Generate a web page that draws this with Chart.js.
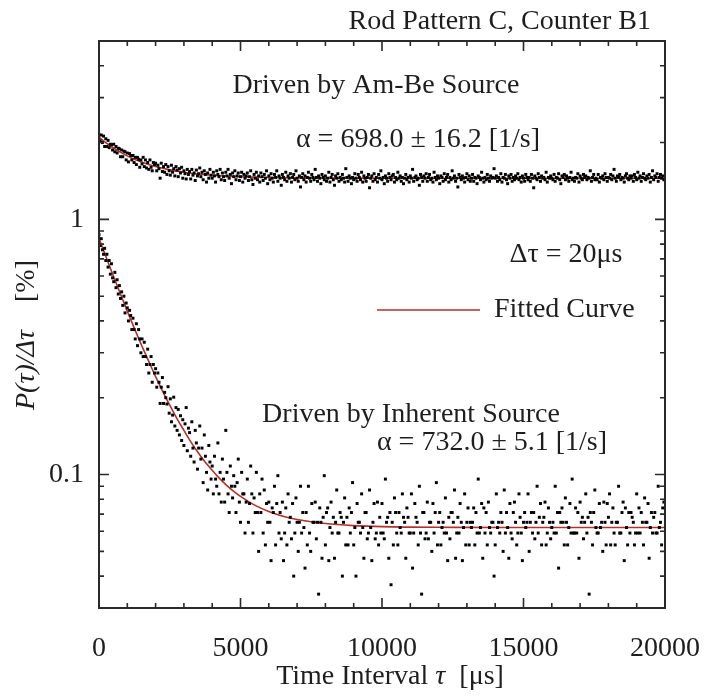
<!DOCTYPE html>
<html>
<head>
<meta charset="utf-8">
<title>Rod Pattern C, Counter B1</title>
<script src="https://cdn.jsdelivr.net/npm/chart.js@4.4.1/dist/chart.umd.min.js"></script>
<style>
  html, body { margin: 0; padding: 0; background: #fff; }
  #wrap { width: 705px; height: 698px; }
</style>
</head>
<body>
<div id="wrap"><canvas id="decayChart" width="705" height="698"></canvas></div>
<script>
// bin spacing of the plotted points (µs)
const TAU_STEP = 40;

// P(tau)/dtau [%] driven by the Am-Be source, one value per bin
const amBeValues = [
    2.15, 2.03, 2.14, 2.00, 2.12, 1.93, 2.07, 1.93, 2.04, 1.91,
    1.97, 1.96, 1.87, 1.97, 1.84, 1.93, 1.82, 1.90, 1.89, 1.76,
    1.87, 1.76, 1.85, 1.84, 1.71, 1.82, 1.68, 1.81, 1.78, 1.71,
    1.78, 1.67, 1.75, 1.64, 1.75, 1.72, 1.60, 1.71, 1.65, 1.75,
    1.61, 1.71, 1.59, 1.67, 1.57, 1.71, 1.60, 1.55, 1.67, 1.64,
    1.66, 1.55, 1.63, 1.58, 1.45, 1.66, 1.54, 1.61, 1.53, 1.64,
    1.50, 1.61, 1.55, 1.49, 1.63, 1.53, 1.58, 1.48, 1.61, 1.56,
    1.47, 1.58, 1.52, 1.60, 1.45, 1.55, 1.51, 1.44, 1.57, 1.50,
    1.54, 1.44, 1.57, 1.49, 1.52, 1.42, 1.56, 1.48, 1.51, 1.59,
    1.47, 1.53, 1.43, 1.55, 1.50, 1.40, 1.52, 1.45, 1.57, 1.49,
    1.45, 1.53, 1.48, 1.40, 1.55, 1.50, 1.47, 1.57, 1.43, 1.52,
    1.47, 1.42, 1.53, 1.48, 1.57, 1.45, 1.50, 1.38, 1.52, 1.47,
    1.55, 1.43, 1.48, 1.52, 1.42, 1.47, 1.53, 1.40, 1.50, 1.45,
    1.48, 1.52, 1.42, 1.47, 1.55, 1.43, 1.37, 1.50, 1.45, 1.53,
    1.43, 1.48, 1.40, 1.52, 1.47, 1.42, 1.50, 1.45, 1.55, 1.38,
    1.48, 1.43, 1.51, 1.45, 1.40, 1.50, 1.46, 1.55, 1.41, 1.48,
    1.45, 1.36, 1.50, 1.46, 1.43, 1.53, 1.41, 1.48, 1.45, 1.51,
    1.40, 1.46, 1.50, 1.43, 1.55, 1.45, 1.41, 1.48, 1.34, 1.46,
    1.51, 1.43, 1.48, 1.40, 1.46, 1.53, 1.45, 1.41, 1.50, 1.46,
    1.43, 1.57, 1.46, 1.41, 1.48, 1.45, 1.38, 1.50, 1.46, 1.43,
    1.48, 1.41, 1.45, 1.53, 1.40, 1.46, 1.50, 1.43, 1.36, 1.48,
    1.45, 1.51, 1.41, 1.46, 1.43, 1.50, 1.45, 1.40, 1.58, 1.46,
    1.41, 1.48, 1.45, 1.38, 1.46, 1.43, 1.51, 1.45, 1.41, 1.50,
    1.46, 1.43, 1.53, 1.40, 1.48, 1.45, 1.41, 1.46, 1.50, 1.33,
    1.45, 1.48, 1.41, 1.51, 1.43, 1.46, 1.40, 1.50, 1.45, 1.55,
    1.43, 1.46, 1.38, 1.48, 1.45, 1.41, 1.51, 1.46, 1.43, 1.48,
    1.50, 1.40, 1.46, 1.43, 1.53, 1.45, 1.48, 1.41, 1.46, 1.38,
    1.45, 1.50, 1.43, 1.46, 1.40, 1.48, 1.45, 1.57, 1.41, 1.46,
    1.48, 1.43, 1.45, 1.36, 1.50, 1.46, 1.41, 1.48, 1.45, 1.51,
    1.41, 1.46, 1.50, 1.43, 1.45, 1.40, 1.53, 1.46, 1.43, 1.48,
    1.45, 1.38, 1.48, 1.46, 1.41, 1.51, 1.43, 1.46, 1.50, 1.40,
    1.46, 1.43, 1.55, 1.45, 1.48, 1.41, 1.45, 1.34, 1.50, 1.46,
    1.43, 1.48, 1.45, 1.40, 1.46, 1.51, 1.43, 1.48, 1.41, 1.45,
    1.50, 1.41, 1.46, 1.45, 1.38, 1.48, 1.46, 1.43, 1.53, 1.45,
    1.40, 1.46, 1.43, 1.50, 1.45, 1.41, 1.48, 1.45, 1.46, 1.58,
    1.45, 1.48, 1.41, 1.46, 1.43, 1.51, 1.40, 1.46, 1.45, 1.50,
    1.43, 1.38, 1.48, 1.45, 1.50, 1.41, 1.46, 1.43, 1.48, 1.45,
    1.51, 1.43, 1.46, 1.40, 1.48, 1.45, 1.41, 1.50, 1.46, 1.43,
    1.46, 1.41, 1.50, 1.45, 1.33, 1.48, 1.45, 1.43, 1.51, 1.46,
    1.41, 1.48, 1.45, 1.46, 1.43, 1.53, 1.40, 1.46, 1.45, 1.48,
    1.45, 1.43, 1.50, 1.41, 1.46, 1.45, 1.51, 1.43, 1.38, 1.48,
    1.46, 1.50, 1.43, 1.48, 1.45, 1.41, 1.46, 1.53, 1.43, 1.45,
    1.41, 1.46, 1.45, 1.51, 1.40, 1.48, 1.45, 1.43, 1.50, 1.46,
    1.48, 1.43, 1.46, 1.45, 1.55, 1.41, 1.46, 1.50, 1.43, 1.45,
    1.43, 1.50, 1.40, 1.46, 1.45, 1.48, 1.43, 1.51, 1.46, 1.41,
    1.46, 1.45, 1.50, 1.43, 1.48, 1.57, 1.45, 1.41, 1.48, 1.46,
    1.50, 1.43, 1.46, 1.45, 1.40, 1.48, 1.51, 1.45, 1.43, 1.48,
    1.45, 1.48, 1.41, 1.50, 1.46, 1.43, 1.53, 1.45, 1.48, 1.41,
    1.46, 1.51, 1.45, 1.43, 1.48, 1.45, 1.50, 1.40, 1.46, 1.55,
    1.43, 1.48, 1.46, 1.51, 1.41, 1.46, 1.50, 1.45, 1.48, 1.43
];

// P(tau)/dtau [%] driven by the inherent source, one value per bin
const inherentValues = [
    0.87, 0.79, 0.84, 0.76, 0.73, 0.77, 0.69, 0.73, 0.65, 0.69,
    0.61, 0.67, 0.59, 0.57, 0.62, 0.54, 0.58, 0.51, 0.55, 0.49,
    0.52, 0.46, 0.50, 0.43, 0.47, 0.45, 0.40, 0.44, 0.42, 0.37,
    0.41, 0.37, 0.34, 0.39, 0.32, 0.37, 0.34, 0.30, 0.34, 0.29,
    0.33, 0.29, 0.27, 0.31, 0.25, 0.27, 0.29, 0.23, 0.27, 0.25,
    0.26, 0.22, 0.25, 0.23, 0.19, 0.22, 0.24, 0.19, 0.21, 0.20,
    0.189, 0.221, 0.174, 0.198, 0.161, 0.171, 0.201, 0.155, 0.183, 0.149,
    0.180, 0.143, 0.170, 0.136, 0.164, 0.130, 0.158, 0.183, 0.124, 0.152,
    0.146, 0.118, 0.161, 0.127, 0.112, 0.149, 0.133, 0.105, 0.127, 0.155,
    0.115, 0.127, 0.093, 0.143, 0.118, 0.102, 0.087, 0.130, 0.112, 0.096,
    0.108, 0.084, 0.118, 0.096, 0.090, 0.133, 0.084, 0.102, 0.078, 0.115,
    0.096, 0.078, 0.149, 0.102, 0.084, 0.071, 0.108, 0.090, 0.081, 0.099,
    0.090, 0.071, 0.093, 0.115, 0.078, 0.065, 0.102, 0.084, 0.084, 0.059,
    0.078, 0.096, 0.065, 0.077, 0.108, 0.084, 0.059, 0.081, 0.071, 0.102,
    0.071, 0.050, 0.084, 0.071, 0.096, 0.059, 0.087, 0.053, 0.077, 0.065,
    0.078, 0.065, 0.046, 0.074, 0.071, 0.090, 0.053, 0.077, 0.099, 0.059,
    0.071, 0.056, 0.078, 0.046, 0.059, 0.074, 0.053, 0.084, 0.065, 0.068,
    0.056, 0.077, 0.040, 0.059, 0.081, 0.065, 0.050, 0.065, 0.090, 0.059,
    0.071, 0.062, 0.043, 0.071, 0.053, 0.090, 0.059, 0.050, 0.077, 0.065,
    0.065, 0.078, 0.056, 0.065, 0.034, 0.074, 0.065, 0.047, 0.068, 0.099,
    0.053, 0.071, 0.074, 0.046, 0.062, 0.078, 0.059, 0.068, 0.047, 0.065,
    0.087, 0.059, 0.059, 0.071, 0.068, 0.040, 0.065, 0.081, 0.053, 0.068,
    0.053, 0.074, 0.059, 0.071, 0.093, 0.053, 0.062, 0.040, 0.077, 0.065,
    0.065, 0.059, 0.084, 0.062, 0.047, 0.071, 0.071, 0.056, 0.059, 0.087,
    0.062, 0.046, 0.065, 0.077, 0.056, 0.059, 0.078, 0.053, 0.068, 0.059,
    0.077, 0.059, 0.056, 0.096, 0.065, 0.068, 0.047, 0.071, 0.037, 0.065,
    0.053, 0.081, 0.071, 0.059, 0.053, 0.071, 0.062, 0.059, 0.084, 0.068,
    0.065, 0.047, 0.074, 0.068, 0.059, 0.059, 0.084, 0.043, 0.059, 0.077,
    0.068, 0.065, 0.053, 0.090, 0.059, 0.034, 0.071, 0.071, 0.056, 0.059,
    0.078, 0.056, 0.065, 0.065, 0.050, 0.077, 0.059, 0.071, 0.093, 0.053,
    0.065, 0.071, 0.053, 0.062, 0.065, 0.059, 0.081, 0.059, 0.046, 0.068,
    0.056, 0.071, 0.071, 0.065, 0.087, 0.047, 0.059, 0.068, 0.059, 0.077,
    0.065, 0.046, 0.062, 0.084, 0.053, 0.065, 0.074, 0.053, 0.065, 0.062,
    0.065, 0.074, 0.053, 0.071, 0.059, 0.096, 0.059, 0.062, 0.077, 0.047,
    0.074, 0.059, 0.071, 0.053, 0.078, 0.062, 0.059, 0.065, 0.065, 0.040,
    0.053, 0.084, 0.062, 0.065, 0.059, 0.071, 0.065, 0.050, 0.087, 0.059,
    0.071, 0.062, 0.047, 0.077, 0.059, 0.056, 0.071, 0.078, 0.065, 0.053,
    0.059, 0.084, 0.068, 0.059, 0.046, 0.065, 0.071, 0.062, 0.065, 0.084,
    0.050, 0.065, 0.071, 0.059, 0.071, 0.056, 0.065, 0.090, 0.059, 0.068,
    0.077, 0.053, 0.065, 0.068, 0.078, 0.053, 0.059, 0.074, 0.065, 0.056,
    0.062, 0.065, 0.059, 0.090, 0.059, 0.071, 0.043, 0.071, 0.065, 0.074,
    0.065, 0.053, 0.081, 0.065, 0.053, 0.062, 0.077, 0.059, 0.096, 0.059,
    0.059, 0.074, 0.059, 0.071, 0.047, 0.078, 0.065, 0.068, 0.056, 0.065,
    0.084, 0.059, 0.068, 0.034, 0.071, 0.065, 0.053, 0.071, 0.087, 0.062,
    0.059, 0.059, 0.077, 0.062, 0.065, 0.050, 0.078, 0.065, 0.053, 0.077,
    0.068, 0.084, 0.053, 0.065, 0.074, 0.059, 0.053, 0.065, 0.065, 0.090,
    0.059, 0.059, 0.071, 0.078, 0.046, 0.074, 0.062, 0.053, 0.071, 0.059,
    0.071, 0.068, 0.065, 0.053, 0.059, 0.084, 0.059, 0.074, 0.059, 0.071,
    0.065, 0.053, 0.081, 0.065, 0.065, 0.077, 0.047, 0.062, 0.071, 0.059,
    0.068, 0.071, 0.059, 0.059, 0.090, 0.062, 0.065, 0.053, 0.074, 0.078
];

// fitted curves, sampled along tau
const fitTau = [0, 250, 500, 750, 1000, 1250, 1500, 1750, 2000, 2250, 2500, 2750, 3000, 3250, 3500,
    3750, 4000, 4250, 4500, 4750, 5000, 5500, 6000, 6500, 7000, 8000, 9000, 10000, 12500, 15000, 20000];
const amBeFit = [2.100, 1.996, 1.908, 1.835, 1.773, 1.721, 1.678, 1.641, 1.610, 1.585, 1.563, 1.545, 1.530, 1.517, 1.506,
    1.497, 1.490, 1.483, 1.478, 1.473, 1.470, 1.464, 1.460, 1.457, 1.455, 1.452, 1.451, 1.450, 1.450, 1.450, 1.450];
const inherentFit = [0.842, 0.712, 0.603, 0.513, 0.437, 0.374, 0.322, 0.279, 0.242, 0.212, 0.187, 0.166, 0.149, 0.134, 0.122,
    0.112, 0.104, 0.0968, 0.0909, 0.0861, 0.0821, 0.0759, 0.0717, 0.0687, 0.0667, 0.0643, 0.0631, 0.0625, 0.0621, 0.0620, 0.0620];

// axis ticks
const xTickValues = [0, 1000, 2000, 3000, 4000, 5000, 6000, 7000, 8000, 9000, 10000,
    11000, 12000, 13000, 14000, 15000, 16000, 17000, 18000, 19000, 20000];
const xLabelValues = [0, 5000, 10000, 15000, 20000];
const yTickValues = [0.03, 0.04, 0.05, 0.06, 0.07, 0.08, 0.09, 0.1, 0.2, 0.3, 0.4, 0.5, 0.6, 0.7, 0.8, 0.9, 1, 2, 3, 4, 5];
const yLabelValues = [0.1, 1];

const SERIF = "'Liberation Serif', 'Times New Roman', serif";
const FONT_SIZE = 28;
const INK = '#1e1e1e';
const FIT_RED = '#b3302c';

document.addEventListener('DOMContentLoaded', () => {
    initChart();
});

// inward tick marks on all four sides + the frame
const frameTicks = {
    id: 'frameTicks',
    afterDraw(chart) {
        const { ctx, chartArea: a, scales: { x, y } } = chart;
        ctx.save();
        ctx.strokeStyle = '#2a2a2a';
        ctx.lineWidth = 1.6;
        ctx.beginPath();
        xTickValues.forEach(v => {
            const px = x.getPixelForValue(v);
            const len = xLabelValues.includes(v) ? 10 : 5;
            ctx.moveTo(px, a.bottom); ctx.lineTo(px, a.bottom - len);
            ctx.moveTo(px, a.top); ctx.lineTo(px, a.top + len);
        });
        yTickValues.forEach(v => {
            const py = y.getPixelForValue(v);
            const len = yLabelValues.includes(v) ? 10 : 5;
            ctx.moveTo(a.left, py); ctx.lineTo(a.left + len, py);
            ctx.moveTo(a.right, py); ctx.lineTo(a.right - len, py);
        });
        ctx.stroke();
        ctx.lineWidth = 2;
        ctx.strokeRect(a.left, a.top, a.right - a.left, a.bottom - a.top);
        ctx.restore();
    }
};

// draws a run of [text, italic] pieces, centred on (cx, cy)
function drawRuns(ctx, runs, cx, cy) {
    const fonts = runs.map(r => `${r[1] ? 'italic ' : ''}${FONT_SIZE}px ${SERIF}`);
    const widths = runs.map((r, i) => { ctx.font = fonts[i]; return ctx.measureText(r[0]).width; });
    let xPos = cx - widths.reduce((s, w) => s + w, 0) / 2;
    ctx.textAlign = 'left';
    runs.forEach((r, i) => {
        ctx.font = fonts[i];
        ctx.fillText(r[0], xPos, cy);
        xPos += widths[i];
    });
}

const annotations = {
    id: 'annotations',
    afterDraw(chart) {
        const ctx = chart.ctx;
        ctx.save();
        ctx.fillStyle = INK;
        ctx.textBaseline = 'middle';
        ctx.font = `${FONT_SIZE}px ${SERIF}`;

        ctx.textAlign = 'right';
        ctx.fillText('Rod Pattern C, Counter B1', 651, 22);

        ctx.textAlign = 'center';
        ctx.fillText('Driven by Am-Be Source', 376, 86);
        ctx.fillText('α = 698.0 ± 16.2 [1/s]', 418, 140);
        ctx.fillText('Δτ = 20μs', 566, 255);
        ctx.fillText('Driven by Inherent Source', 411, 415);
        ctx.fillText('α = 732.0 ± 5.1 [1/s]', 492, 443);

        // legend entry for the fit
        ctx.strokeStyle = FIT_RED;
        ctx.lineWidth = 1.6;
        ctx.beginPath();
        ctx.moveTo(377, 310); ctx.lineTo(480, 310);
        ctx.stroke();
        ctx.textAlign = 'left';
        ctx.fillText('Fitted Curve', 494, 310);

        // axis titles
        drawRuns(ctx, [['Time Interval ', false], ['τ', true], ['  [μs]', false]], 390, 677);
        ctx.translate(27, 335);
        ctx.rotate(-Math.PI / 2);
        drawRuns(ctx, [['P(τ)/Δτ', true], ['    [%]', false]], 0, 0);
        ctx.restore();
    }
};

function initChart() {
    const ctx = document.getElementById('decayChart').getContext('2d');
    const tickFont = { family: SERIF, size: FONT_SIZE };

    const pointsStyle = {
        type: 'scatter',
        pointStyle: 'rect',
        pointRadius: 2.1,
        pointBorderWidth: 0,
        backgroundColor: '#000',
        borderColor: '#000',
        order: 1
    };
    const fitStyle = {
        type: 'line',
        borderColor: FIT_RED,
        borderWidth: 1.6,
        pointRadius: 0,
        fill: false,
        cubicInterpolationMode: 'monotone',
        order: 2
    };

    new Chart(ctx, {
        type: 'scatter',
        data: {
            datasets: [
                { ...fitStyle, label: 'Fitted Curve (Am-Be)', data: fitTau.map((t, i) => ({ x: t, y: amBeFit[i] })) },
                { ...fitStyle, label: 'Fitted Curve (Inherent)', data: fitTau.map((t, i) => ({ x: t, y: inherentFit[i] })) },
                { ...pointsStyle, label: 'Driven by Am-Be Source', data: amBeValues.map((v, i) => ({ x: i * TAU_STEP, y: v })) },
                { ...pointsStyle, label: 'Driven by Inherent Source', data: inherentValues.map((v, i) => ({ x: i * TAU_STEP, y: v })) }
            ]
        },
        options: {
            responsive: false,
            animation: false,
            events: [],
            layout: { padding: { top: 41, right: 40, left: 0, bottom: 0 } },
            plugins: {
                legend: { display: false },
                tooltip: { enabled: false }
            },
            scales: {
                x: {
                    type: 'linear',
                    min: 0,
                    max: 20000,
                    // fixed plot box: no extra room reserved for the edge labels
                    afterFit: s => { s.height = 90; s.paddingLeft = 0; s.paddingRight = 0; },
                    afterBuildTicks: s => { s.ticks = xLabelValues.map(v => ({ value: v })); },
                    grid: { display: false, drawTicks: false },
                    border: { display: false },
                    ticks: {
                        font: tickFont,
                        color: INK,
                        padding: 24,
                        maxRotation: 0,
                        autoSkip: false,
                        callback: v => String(v)
                    }
                },
                y: {
                    type: 'logarithmic',
                    min: 0.03,
                    max: 5,
                    afterFit: s => { s.width = 99; s.paddingTop = 0; s.paddingBottom = 0; },
                    afterBuildTicks: s => { s.ticks = yLabelValues.map(v => ({ value: v })); },
                    grid: { display: false, drawTicks: false },
                    border: { display: false },
                    ticks: {
                        font: tickFont,
                        color: INK,
                        padding: 15,
                        autoSkip: false,
                        callback: v => String(v)
                    }
                }
            }
        },
        plugins: [frameTicks, annotations]
    });
}
</script>
</body>
</html>
